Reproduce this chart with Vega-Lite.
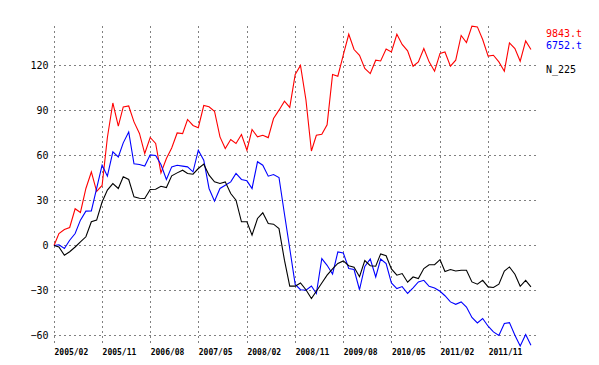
{
  "$schema": "https://vega.github.io/schema/vega-lite/v6.json",
  "width": 481,
  "height": 320,
  "autosize": {"type": "none"},
  "padding": {"left": 54, "top": 26, "right": 64, "bottom": 19},
  "background": "white",
  "config": {
    "view": {"stroke": null},
    "axis": {
      "domain": false,
      "ticks": false,
      "grid": true,
      "gridColor": "#000000",
      "gridOpacity": 1,
      "gridWidth": 1,
      "gridDash": [1, 4],
      "labelColor": "#000000",
      "title": null
    }
  },
  "data": {
    "values": [
      {"date":"2005-02-01","series":"9843.t","value":0},{"date":"2005-03-01","series":"9843.t","value":8},{"date":"2005-04-01","series":"9843.t","value":10.6},{"date":"2005-05-01","series":"9843.t","value":12},{"date":"2005-06-01","series":"9843.t","value":24.5},{"date":"2005-07-01","series":"9843.t","value":22},{"date":"2005-08-01","series":"9843.t","value":38},{"date":"2005-09-01","series":"9843.t","value":49},{"date":"2005-10-01","series":"9843.t","value":36},{"date":"2005-11-01","series":"9843.t","value":40},{"date":"2005-12-01","series":"9843.t","value":72},
      {"date":"2006-01-01","series":"9843.t","value":95},{"date":"2006-02-01","series":"9843.t","value":79.5},{"date":"2006-03-01","series":"9843.t","value":92.4},{"date":"2006-04-01","series":"9843.t","value":93},{"date":"2006-05-01","series":"9843.t","value":82.4},{"date":"2006-06-01","series":"9843.t","value":74.7},{"date":"2006-07-01","series":"9843.t","value":61.3},{"date":"2006-08-01","series":"9843.t","value":72},{"date":"2006-09-01","series":"9843.t","value":68},{"date":"2006-10-01","series":"9843.t","value":48.4},{"date":"2006-11-01","series":"9843.t","value":58},{"date":"2006-12-01","series":"9843.t","value":65},
      {"date":"2007-01-01","series":"9843.t","value":75},{"date":"2007-02-01","series":"9843.t","value":74.6},{"date":"2007-03-01","series":"9843.t","value":84},{"date":"2007-04-01","series":"9843.t","value":80},{"date":"2007-05-01","series":"9843.t","value":78.5},{"date":"2007-06-01","series":"9843.t","value":93.3},{"date":"2007-07-01","series":"9843.t","value":92.5},{"date":"2007-08-01","series":"9843.t","value":89.5},{"date":"2007-09-01","series":"9843.t","value":72.4},{"date":"2007-10-01","series":"9843.t","value":64.6},{"date":"2007-11-01","series":"9843.t","value":70.6},{"date":"2007-12-01","series":"9843.t","value":68},
      {"date":"2008-01-01","series":"9843.t","value":74},{"date":"2008-02-01","series":"9843.t","value":63.5},{"date":"2008-03-01","series":"9843.t","value":77.3},{"date":"2008-04-01","series":"9843.t","value":72.4},{"date":"2008-05-01","series":"9843.t","value":73.5},{"date":"2008-06-01","series":"9843.t","value":71.9},{"date":"2008-07-01","series":"9843.t","value":84.6},{"date":"2008-08-01","series":"9843.t","value":90.2},{"date":"2008-09-01","series":"9843.t","value":96.2},{"date":"2008-10-01","series":"9843.t","value":92},{"date":"2008-11-01","series":"9843.t","value":114},{"date":"2008-12-01","series":"9843.t","value":120},
      {"date":"2009-01-01","series":"9843.t","value":97},{"date":"2009-02-01","series":"9843.t","value":63},{"date":"2009-03-01","series":"9843.t","value":73.5},{"date":"2009-04-01","series":"9843.t","value":74.2},{"date":"2009-05-01","series":"9843.t","value":80.5},{"date":"2009-06-01","series":"9843.t","value":114},{"date":"2009-07-01","series":"9843.t","value":112.8},{"date":"2009-08-01","series":"9843.t","value":127},{"date":"2009-09-01","series":"9843.t","value":140.8},{"date":"2009-10-01","series":"9843.t","value":130.6},{"date":"2009-11-01","series":"9843.t","value":126.8},{"date":"2009-12-01","series":"9843.t","value":118},
      {"date":"2010-01-01","series":"9843.t","value":114.6},{"date":"2010-02-01","series":"9843.t","value":123.5},{"date":"2010-03-01","series":"9843.t","value":123},{"date":"2010-04-01","series":"9843.t","value":131},{"date":"2010-05-01","series":"9843.t","value":129},{"date":"2010-06-01","series":"9843.t","value":140.8},{"date":"2010-07-01","series":"9843.t","value":134},{"date":"2010-08-01","series":"9843.t","value":129.7},{"date":"2010-09-01","series":"9843.t","value":119.5},{"date":"2010-10-01","series":"9843.t","value":122.4},{"date":"2010-11-01","series":"9843.t","value":131.3},{"date":"2010-12-01","series":"9843.t","value":122.4},
      {"date":"2011-01-01","series":"9843.t","value":116.2},{"date":"2011-02-01","series":"9843.t","value":128},{"date":"2011-03-01","series":"9843.t","value":129},{"date":"2011-04-01","series":"9843.t","value":119.5},{"date":"2011-05-01","series":"9843.t","value":123.5},{"date":"2011-06-01","series":"9843.t","value":140},{"date":"2011-07-01","series":"9843.t","value":135.3},{"date":"2011-08-01","series":"9843.t","value":146.2},{"date":"2011-09-01","series":"9843.t","value":145.7},{"date":"2011-10-01","series":"9843.t","value":137.3},{"date":"2011-11-01","series":"9843.t","value":126.2},{"date":"2011-12-01","series":"9843.t","value":126.8},
      {"date":"2012-01-01","series":"9843.t","value":122.4},{"date":"2012-02-01","series":"9843.t","value":116.2},{"date":"2012-03-01","series":"9843.t","value":135},{"date":"2012-04-01","series":"9843.t","value":131.3},{"date":"2012-05-01","series":"9843.t","value":122.8},{"date":"2012-06-01","series":"9843.t","value":136.4},{"date":"2012-07-01","series":"9843.t","value":130.6},

      {"date":"2005-02-01","series":"6752.t","value":0},{"date":"2005-03-01","series":"6752.t","value":0.5},{"date":"2005-04-01","series":"6752.t","value":-2},{"date":"2005-05-01","series":"6752.t","value":3.5},{"date":"2005-06-01","series":"6752.t","value":8},{"date":"2005-07-01","series":"6752.t","value":16.9},{"date":"2005-08-01","series":"6752.t","value":22.9},{"date":"2005-09-01","series":"6752.t","value":23},{"date":"2005-10-01","series":"6752.t","value":38},{"date":"2005-11-01","series":"6752.t","value":53.5},{"date":"2005-12-01","series":"6752.t","value":46.2},
      {"date":"2006-01-01","series":"6752.t","value":62.4},{"date":"2006-02-01","series":"6752.t","value":59},{"date":"2006-03-01","series":"6752.t","value":68.4},{"date":"2006-04-01","series":"6752.t","value":75.7},{"date":"2006-05-01","series":"6752.t","value":54.4},{"date":"2006-06-01","series":"6752.t","value":54},{"date":"2006-07-01","series":"6752.t","value":53},{"date":"2006-08-01","series":"6752.t","value":60.4},{"date":"2006-09-01","series":"6752.t","value":60},{"date":"2006-10-01","series":"6752.t","value":54},{"date":"2006-11-01","series":"6752.t","value":44},{"date":"2006-12-01","series":"6752.t","value":52.4},
      {"date":"2007-01-01","series":"6752.t","value":53.5},{"date":"2007-02-01","series":"6752.t","value":52.9},{"date":"2007-03-01","series":"6752.t","value":52.4},{"date":"2007-04-01","series":"6752.t","value":49.1},{"date":"2007-05-01","series":"6752.t","value":63.5},{"date":"2007-06-01","series":"6752.t","value":56.9},{"date":"2007-07-01","series":"6752.t","value":38},{"date":"2007-08-01","series":"6752.t","value":29.5},{"date":"2007-09-01","series":"6752.t","value":38},{"date":"2007-10-01","series":"6752.t","value":40.2},{"date":"2007-11-01","series":"6752.t","value":42.4},{"date":"2007-12-01","series":"6752.t","value":48},
      {"date":"2008-01-01","series":"6752.t","value":44},{"date":"2008-02-01","series":"6752.t","value":43.1},{"date":"2008-03-01","series":"6752.t","value":38},{"date":"2008-04-01","series":"6752.t","value":55.8},{"date":"2008-05-01","series":"6752.t","value":53.5},{"date":"2008-06-01","series":"6752.t","value":46.2},{"date":"2008-07-01","series":"6752.t","value":47.3},{"date":"2008-08-01","series":"6752.t","value":45.3},{"date":"2008-09-01","series":"6752.t","value":21},{"date":"2008-10-01","series":"6752.t","value":-2},{"date":"2008-11-01","series":"6752.t","value":-26},{"date":"2008-12-01","series":"6752.t","value":-29.5},
      {"date":"2009-01-01","series":"6752.t","value":-29.8},{"date":"2009-02-01","series":"6752.t","value":-27},{"date":"2009-03-01","series":"6752.t","value":-32},{"date":"2009-04-01","series":"6752.t","value":-8.7},{"date":"2009-05-01","series":"6752.t","value":-13.2},{"date":"2009-06-01","series":"6752.t","value":-19},{"date":"2009-07-01","series":"6752.t","value":-4.3},{"date":"2009-08-01","series":"6752.t","value":-5},{"date":"2009-09-01","series":"6752.t","value":-15.4},{"date":"2009-10-01","series":"6752.t","value":-16},{"date":"2009-11-01","series":"6752.t","value":-29.5},{"date":"2009-12-01","series":"6752.t","value":-14},
      {"date":"2010-01-01","series":"6752.t","value":-9},{"date":"2010-02-01","series":"6752.t","value":-21},{"date":"2010-03-01","series":"6752.t","value":-9},{"date":"2010-04-01","series":"6752.t","value":-12},{"date":"2010-05-01","series":"6752.t","value":-25},{"date":"2010-06-01","series":"6752.t","value":-28.7},{"date":"2010-07-01","series":"6752.t","value":-27.4},{"date":"2010-08-01","series":"6752.t","value":-32},{"date":"2010-09-01","series":"6752.t","value":-28.2},{"date":"2010-10-01","series":"6752.t","value":-24.3},{"date":"2010-11-01","series":"6752.t","value":-23.2},{"date":"2010-12-01","series":"6752.t","value":-27.2},
      {"date":"2011-01-01","series":"6752.t","value":-28.4},{"date":"2011-02-01","series":"6752.t","value":-30.5},{"date":"2011-03-01","series":"6752.t","value":-33.5},{"date":"2011-04-01","series":"6752.t","value":-37.6},{"date":"2011-05-01","series":"6752.t","value":-39.2},{"date":"2011-06-01","series":"6752.t","value":-37.6},{"date":"2011-07-01","series":"6752.t","value":-41},{"date":"2011-08-01","series":"6752.t","value":-48},{"date":"2011-09-01","series":"6752.t","value":-51.6},{"date":"2011-10-01","series":"6752.t","value":-48.7},{"date":"2011-11-01","series":"6752.t","value":-53.8},{"date":"2011-12-01","series":"6752.t","value":-57.6},
      {"date":"2012-01-01","series":"6752.t","value":-60},{"date":"2012-02-01","series":"6752.t","value":-52},{"date":"2012-03-01","series":"6752.t","value":-51.4},{"date":"2012-04-01","series":"6752.t","value":-59.8},{"date":"2012-05-01","series":"6752.t","value":-67},{"date":"2012-06-01","series":"6752.t","value":-59.4},{"date":"2012-07-01","series":"6752.t","value":-66.5},

      {"date":"2005-02-01","series":"N_225","value":0},{"date":"2005-03-01","series":"N_225","value":-1},{"date":"2005-04-01","series":"N_225","value":-6.5},{"date":"2005-05-01","series":"N_225","value":-4.2},{"date":"2005-06-01","series":"N_225","value":-1},{"date":"2005-07-01","series":"N_225","value":2.4},{"date":"2005-08-01","series":"N_225","value":5.8},{"date":"2005-09-01","series":"N_225","value":15.8},{"date":"2005-10-01","series":"N_225","value":16.9},{"date":"2005-11-01","series":"N_225","value":29},{"date":"2005-12-01","series":"N_225","value":36.9},
      {"date":"2006-01-01","series":"N_225","value":41.3},{"date":"2006-02-01","series":"N_225","value":38},{"date":"2006-03-01","series":"N_225","value":45.8},{"date":"2006-04-01","series":"N_225","value":44},{"date":"2006-05-01","series":"N_225","value":32.4},{"date":"2006-06-01","series":"N_225","value":31.5},{"date":"2006-07-01","series":"N_225","value":31.3},{"date":"2006-08-01","series":"N_225","value":37.3},{"date":"2006-09-01","series":"N_225","value":37.5},{"date":"2006-10-01","series":"N_225","value":39.5},{"date":"2006-11-01","series":"N_225","value":38.6},{"date":"2006-12-01","series":"N_225","value":46.4},
      {"date":"2007-01-01","series":"N_225","value":48.4},{"date":"2007-02-01","series":"N_225","value":50.2},{"date":"2007-03-01","series":"N_225","value":48},{"date":"2007-04-01","series":"N_225","value":47.5},{"date":"2007-05-01","series":"N_225","value":51.3},{"date":"2007-06-01","series":"N_225","value":54.2},{"date":"2007-07-01","series":"N_225","value":46.9},{"date":"2007-08-01","series":"N_225","value":42.4},{"date":"2007-09-01","series":"N_225","value":41.3},{"date":"2007-10-01","series":"N_225","value":42.4},{"date":"2007-11-01","series":"N_225","value":34.6},{"date":"2007-12-01","series":"N_225","value":30.2},
      {"date":"2008-01-01","series":"N_225","value":15.8},{"date":"2008-02-01","series":"N_225","value":15.8},{"date":"2008-03-01","series":"N_225","value":6.9},{"date":"2008-04-01","series":"N_225","value":18},{"date":"2008-05-01","series":"N_225","value":21.8},{"date":"2008-06-01","series":"N_225","value":14.6},{"date":"2008-07-01","series":"N_225","value":14.2},{"date":"2008-08-01","series":"N_225","value":11.3},{"date":"2008-09-01","series":"N_225","value":-9.8},{"date":"2008-10-01","series":"N_225","value":-27.1},{"date":"2008-11-01","series":"N_225","value":-27.1},{"date":"2008-12-01","series":"N_225","value":-25},
      {"date":"2009-01-01","series":"N_225","value":-29.5},{"date":"2009-02-01","series":"N_225","value":-35.4},{"date":"2009-03-01","series":"N_225","value":-30.5},{"date":"2009-04-01","series":"N_225","value":-25},{"date":"2009-05-01","series":"N_225","value":-19.8},{"date":"2009-06-01","series":"N_225","value":-15.6},{"date":"2009-07-01","series":"N_225","value":-12},{"date":"2009-08-01","series":"N_225","value":-10.3},{"date":"2009-09-01","series":"N_225","value":-13.5},{"date":"2009-10-01","series":"N_225","value":-14.5},{"date":"2009-11-01","series":"N_225","value":-20.8},{"date":"2009-12-01","series":"N_225","value":-10},
      {"date":"2010-01-01","series":"N_225","value":-13.5},{"date":"2010-02-01","series":"N_225","value":-13.8},{"date":"2010-03-01","series":"N_225","value":-5.6},{"date":"2010-04-01","series":"N_225","value":-6.8},{"date":"2010-05-01","series":"N_225","value":-15.6},{"date":"2010-06-01","series":"N_225","value":-19.8},{"date":"2010-07-01","series":"N_225","value":-18.7},{"date":"2010-08-01","series":"N_225","value":-24.5},{"date":"2010-09-01","series":"N_225","value":-21},{"date":"2010-10-01","series":"N_225","value":-22},{"date":"2010-11-01","series":"N_225","value":-15.4},{"date":"2010-12-01","series":"N_225","value":-12.8},
      {"date":"2011-01-01","series":"N_225","value":-12.8},{"date":"2011-02-01","series":"N_225","value":-9.4},{"date":"2011-03-01","series":"N_225","value":-17.3},{"date":"2011-04-01","series":"N_225","value":-16},{"date":"2011-05-01","series":"N_225","value":-17},{"date":"2011-06-01","series":"N_225","value":-16.5},{"date":"2011-07-01","series":"N_225","value":-16.5},{"date":"2011-08-01","series":"N_225","value":-24.3},{"date":"2011-09-01","series":"N_225","value":-25.8},{"date":"2011-10-01","series":"N_225","value":-23.2},{"date":"2011-11-01","series":"N_225","value":-27.6},{"date":"2011-12-01","series":"N_225","value":-28},
      {"date":"2012-01-01","series":"N_225","value":-25.8},{"date":"2012-02-01","series":"N_225","value":-17},{"date":"2012-03-01","series":"N_225","value":-14.3},{"date":"2012-04-01","series":"N_225","value":-19.2},{"date":"2012-05-01","series":"N_225","value":-27.2},{"date":"2012-06-01","series":"N_225","value":-23.2},{"date":"2012-07-01","series":"N_225","value":-27.6}
    ]
  },
  "mark": {"type": "line", "strokeWidth": 1.1, "interpolate": "linear"},
  "encoding": {
    "x": {
      "field": "date",
      "type": "temporal",
      "scale": {
        "type": "utc",
        "domain": [
          {"year": 2005, "month": 2, "date": 1, "utc": true},
          {"year": 2012, "month": 7, "date": 24, "utc": true}
        ],
        "nice": false
      },
      "axis": {
        "values": [
          {"year": 2005, "month": 2, "date": 1, "utc": true},
          {"year": 2005, "month": 11, "date": 1, "utc": true},
          {"year": 2006, "month": 8, "date": 1, "utc": true},
          {"year": 2007, "month": 5, "date": 1, "utc": true},
          {"year": 2008, "month": 2, "date": 1, "utc": true},
          {"year": 2008, "month": 11, "date": 1, "utc": true},
          {"year": 2009, "month": 8, "date": 1, "utc": true},
          {"year": 2010, "month": 5, "date": 1, "utc": true},
          {"year": 2011, "month": 2, "date": 1, "utc": true},
          {"year": 2011, "month": 11, "date": 1, "utc": true}
        ],
        "format": "%Y/%m",
        "labelAlign": "left",
        "labelBaseline": "top",
        "labelPadding": 2,
        "labelFont": "DejaVu Sans Mono",
        "labelFontSize": 8,
        "labelFontWeight": "bold",
        "labelFlush": false,
        "labelOverlap": false
      }
    },
    "y": {
      "field": "value",
      "type": "quantitative",
      "scale": {"domain": [-67, 146.3], "nice": false, "zero": false},
      "axis": {
        "values": [-60, -30, 0, 30, 60, 90, 120],
        "labelFont": "DejaVu Sans Mono",
        "labelFontSize": 10,
        "labelPadding": 6
      }
    },
    "color": {
      "field": "series",
      "type": "nominal",
      "scale": {
        "domain": ["9843.t", "6752.t", " ", "N_225"],
        "range": ["#ff0000", "#0000ff", "#ffffff", "#000000"]
      },
      "legend": {
        "orient": "none",
        "legendX": 482,
        "legendY": 2,
        "title": null,
        "symbolSize": 0,
        "symbolStrokeWidth": 0,
        "symbolOpacity": 0,
        "labelOffset": 0,
        "labelFont": "DejaVu Sans Mono",
        "labelFontSize": 10,
        "rowPadding": 0,
        "padding": 0,
        "clipHeight": 12,
        "encode": {
          "labels": {"update": {"fill": {"scale": "color", "field": "value"}}}
        }
      }
    }
  }
}
